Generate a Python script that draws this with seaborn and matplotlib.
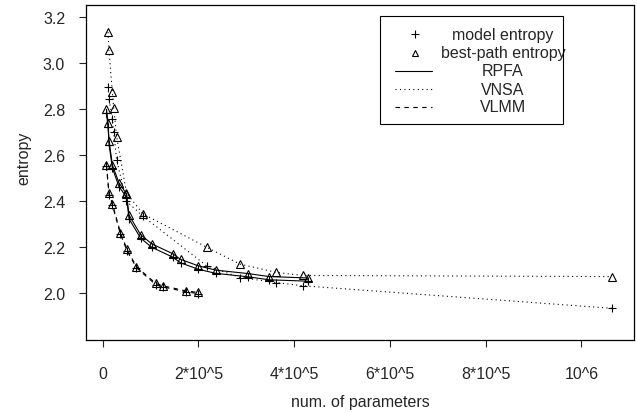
import pandas as pd
import seaborn as sns
import matplotlib.pyplot as plt
from matplotlib.patches import Rectangle

# values
rpfa_params = [7.7e3, 1.11e4, 1.32e4, 2.03e4, 3.41e4, 4.96e4, 5.5e4, 7.89e4, 1.019e5,
               1.458e5, 1.625e5, 1.994e5, 2.364e5, 3.04e5, 3.479e5, 4.28e5]
rpfa_best = [2.800, 2.739, 2.662, 2.556, 2.479, 2.432, 2.339, 2.255, 2.215,
             2.172, 2.147, 2.119, 2.100, 2.085, 2.072, 2.066]
rpfa_model = [2.785, 2.722, 2.646, 2.543, 2.463, 2.418, 2.323, 2.240, 2.200,
              2.157, 2.132, 2.104, 2.086, 2.071, 2.058, 2.052]

vnsa_params = [1.1e4, 1.3e4, 2.0e4, 2.3e4, 2.9e4, 4.96e4, 8.4e4, 2.17e5, 2.87e5,
               3.63e5, 4.18e5, 1.064e6]
vnsa_best = [3.136, 3.056, 2.876, 2.804, 2.681, 2.436, 2.345, 2.200, 2.126,
             2.090, 2.077, 2.072]
vnsa_model = [2.898, 2.844, 2.760, 2.700, 2.580, 2.400, 2.335, 2.119, 2.068,
              2.046, 2.032, 1.934]

vlmm_params = [7.7e3, 1.32e4, 2.03e4, 3.7e4, 5.08e4, 7.05e4, 1.109e5, 1.262e5,
               1.73e5, 1.994e5]
vlmm_best = [2.558, 2.436, 2.388, 2.263, 2.190, 2.115, 2.042, 2.032, 2.010, 2.003]
vlmm_model = [2.552, 2.428, 2.382, 2.256, 2.184, 2.110, 2.037, 2.027, 2.006, 1.998]

x_ticks = [0, 2e5, 4e5, 6e5, 8e5, 1e6]
x_tick_labels = ['0', '2*10^5', '4*10^5', '6*10^5', '8*10^5', '10^6']
y_ticks = [2.0, 2.2, 2.4, 2.6, 2.8, 3.0, 3.2]

# long table: one row per point
frames = []
for algo, params, model, best in [('RPFA', rpfa_params, rpfa_model, rpfa_best),
                                  ('VNSA', vnsa_params, vnsa_model, vnsa_best),
                                  ('VLMM', vlmm_params, vlmm_model, vlmm_best)]:
    frames.append(pd.DataFrame({'params': params, 'entropy': model, 'algo': algo, 'kind': 'model'}))
    frames.append(pd.DataFrame({'params': params, 'entropy': best, 'algo': algo, 'kind': 'best'}))
df = pd.concat(frames, ignore_index=True)

sns.set_theme(style='ticks', rc={
    'axes.linewidth': 0.9,
    'xtick.major.size': 5,
    'ytick.major.size': 5,
    'xtick.major.width': 0.8,
    'ytick.major.width': 0.8,
    'xtick.major.pad': 14,
    'ytick.major.pad': 10,
    'font.size': 11.5,
    'xtick.labelsize': 11.5,
    'ytick.labelsize': 11.5,
    'axes.labelsize': 11.5,
})
plt.rcParams['font.family'] = ['Liberation Sans', 'DejaVu Sans']

line_styles = {'RPFA': '-', 'VNSA': (0, (1, 3)), 'VLMM': (0, (4, 4))}
markers = {'model': '+', 'best': '^'}

fig, ax = plt.subplots(figsize=(6.37, 4.14), dpi=100)
fig.subplots_adjust(left=86 / 637, right=634 / 637, top=1 - 6 / 414, bottom=1 - 341 / 414)

for (algo, kind), sub in df.groupby(['algo', 'kind']):
    sns.lineplot(data=sub, x='params', y='entropy', ax=ax, color='black',
                 linestyle=line_styles[algo], linewidth=0.8,
                 marker=markers[kind], markersize=6, markerfacecolor='none',
                 markeredgecolor='black', markeredgewidth=0.8, legend=False)

ax.set_xlim(-3.5e4, 1.11e6)
ax.set_ylim(1.796, 3.254)
ax.set_xticks(x_ticks)
ax.set_xticklabels(x_tick_labels)
ax.set_yticks(y_ticks)
ax.set_yticklabels([f'{v:.1f}' for v in y_ticks])
ax.set_xlabel('num. of parameters', labelpad=9)
ax.set_ylabel('entropy', labelpad=12)
ax.yaxis.set_label_coords(-0.1, 0.545)
for s in ax.spines.values():
    s.set_visible(True)
    s.set_color('black')

# legend box, R style: symbols on the left, labels centred
lx0, lx1, ly0, ly1 = 0.5365, 0.870, 0.645, 0.968
ax.add_patch(Rectangle((lx0, ly0), lx1 - lx0, ly1 - ly0, transform=ax.transAxes,
                       fill=False, edgecolor='black', linewidth=0.8, zorder=5))
rows = [0.912, 0.857, 0.803, 0.749, 0.697]
entries = [('model entropy', 'none', '+'), ('best-path entropy', 'none', '^'),
           ('RPFA', line_styles['RPFA'], None), ('VNSA', line_styles['VNSA'], None),
           ('VLMM', line_styles['VLMM'], None)]
for y, (label, ls, mk) in zip(rows, entries):
    if mk is not None:
        ax.plot([0.6004], [y], transform=ax.transAxes, marker=mk, markersize=6 if mk == '+' else 5,
                markerfacecolor='none', markeredgecolor='black', markeredgewidth=0.8,
                linestyle='none')
    else:
        ax.plot([0.5639, 0.6314], [y, y], transform=ax.transAxes, color='black',
                linestyle=ls, linewidth=0.8)
    ax.text(0.761, y, label, transform=ax.transAxes, ha='center', va='center', fontsize=11.5)

fig.savefig('out.png', dpi=100, facecolor='white')
